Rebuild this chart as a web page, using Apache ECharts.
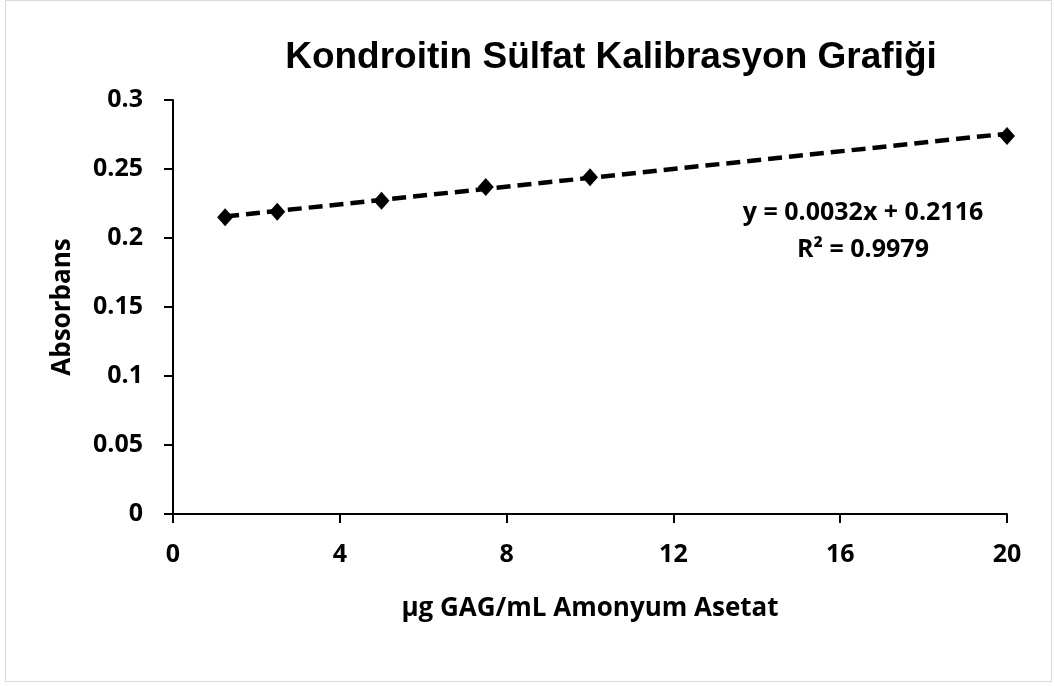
<!DOCTYPE html>
<html>
<head>
<meta charset="utf-8">
<script src="https://cdn.jsdelivr.net/npm/echarts@6/dist/echarts.min.js"></script>
<style>
html,body{margin:0;padding:0;background:#fff;}
#chart{width:1055px;height:686px;}
</style>
</head>
<body>
<div id="chart"></div>
<script>
// olculen noktalar (okunan degerler)
var concs = [1.25, 2.5, 5, 7.5, 10, 20];
var absorb = [0.215, 0.219, 0.227, 0.237, 0.244, 0.274];
// trend cizgisi uc noktalari
var trendX = [1.25, 20];
var trendY = [0.2156, 0.2756];
var xTicks = [0, 4, 8, 12, 16, 20];
var yTicks = [0, 0.05, 0.1, 0.15, 0.2, 0.25, 0.3];

var chart = echarts.init(document.getElementById("chart"));

var points = [];
for (var i = 0; i < concs.length; i++) {
    points.push([concs[i], absorb[i]]);
}
var trend = [];
for (var j = 0; j < trendX.length; j++) {
    trend.push([trendX[j], trendY[j]]);
}

var fam = 'Open Sans';

var option = {
    animation: false,
    backgroundColor: '#fff',
    title: {
        text: 'Kondroitin Sülfat Kalibrasyon Grafiği',
        left: 606, top: 34, textAlign: 'center',
        textStyle: {fontFamily: 'Liberation Sans', fontWeight: 'bold', fontSize: 37, color: '#000'}
    },
    grid: {left: 173, right: 48, top: 100, bottom: 172},
    xAxis: {
        type: 'value', min: 0, max: 20, interval: 4,
        name: 'μg GAG/mL Amonyum Asetat',
        nameLocation: 'middle', nameGap: 82,
        nameTextStyle: {fontFamily: fam, fontWeight: 'bold', fontSize: 26, color: '#000'},
        axisLine: {show: true, lineStyle: {color: '#000', width: 2}},
        axisTick: {show: true, length: 9, lineStyle: {color: '#000', width: 2}},
        axisLabel: {margin: 28, fontFamily: fam, fontWeight: 'bold', fontSize: 25, color: '#000',
            formatter: function (v) { return xTicks.indexOf(v) >= 0 ? String(v) : ''; }},
        splitLine: {show: false}
    },
    yAxis: {
        type: 'value', min: 0, max: 0.3, interval: 0.05,
        name: 'Absorbans',
        nameLocation: 'middle', nameGap: 97,
        nameTextStyle: {fontFamily: fam, fontWeight: 'bold', fontSize: 26, color: '#000'},
        axisLine: {show: true, lineStyle: {color: '#000', width: 2}},
        axisTick: {show: true, length: 9, lineStyle: {color: '#000', width: 2}},
        axisLabel: {margin: 30, fontFamily: fam, fontWeight: 'bold', fontSize: 25, color: '#000',
            formatter: function (v) {
                var r = Math.round(v * 100) / 100;
                return String(r);
            }},
        splitLine: {show: false}
    },
    series: [
        {
            type: 'line', data: trend, symbol: 'none', z: 2,
            lineStyle: {color: '#000', width: 4.5, type: [14, 7]}
        },
        {
            type: 'scatter', data: points, symbol: 'diamond', symbolSize: [16, 18], z: 3,
            itemStyle: {color: '#000', opacity: 1}
        }
    ],
    graphic: [
        {type: 'rect', shape: {x: 5.5, y: 0.5, width: 1046, height: 681},
            style: {fill: null, stroke: '#d9d9d9', lineWidth: 1}, silent: true},
        {type: 'text', x: 863, y: 213, z: 10,
            style: {text: 'y = 0.0032x + 0.2116', fill: '#000', align: 'center', verticalAlign: 'middle',
                font: 'bold 25px "Open Sans"'}},
        {type: 'text', x: 863, y: 250, z: 10,
            style: {text: 'R² = 0.9979', fill: '#000', align: 'center', verticalAlign: 'middle',
                font: 'bold 25px "Open Sans"'}}
    ]
};
chart.setOption(option);
</script>
</body>
</html>
